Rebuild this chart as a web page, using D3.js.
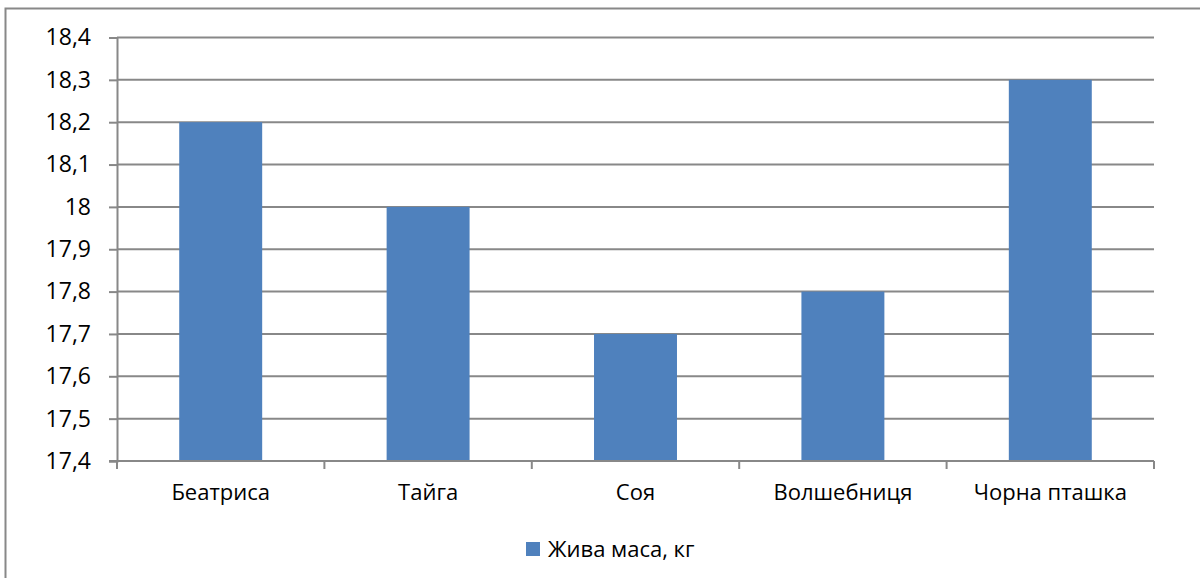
<!DOCTYPE html>
<html>
<head>
<meta charset="utf-8">
<script src="https://cdn.jsdelivr.net/npm/d3@7"></script>
<style>
  html, body { margin: 0; padding: 0; background: #fff; }
  svg { display: block; font-family: "Open Sans", "Noto Sans", sans-serif; }
</style>
</head>
<body>
<svg id="chart" width="1200" height="578"></svg>
<script>
// Live weight by variety
const categories = ["Беатриса", "Тайга", "Соя", "Волшебниця", "Чорна пташка"];
const values = [18.2, 18.0, 17.7, 17.8, 18.3];
const tickValues = [17.4, 17.5, 17.6, 17.7, 17.8, 17.9, 18.0, 18.1, 18.2, 18.3, 18.4];
const seriesName = "Жива маса, кг";

const svg = d3.select("#chart");
const W = 1200, H = 578;
const margin = { left: 117, right: 46, top: 37.5, bottom: 117 };

// outer frame (continues past the right and bottom edges)
svg.append("rect")
  .attr("x", 5.5).attr("y", 8.5)
  .attr("width", 1220).attr("height", 600)
  .attr("fill", "none").attr("stroke", "#888").attr("stroke-width", 2);

const x = d3.scaleBand()
  .domain(categories)
  .range([margin.left, W - margin.right])
  .paddingInner(0.6).paddingOuter(0.3);

const y = d3.scaleLinear()
  .domain([17.4, 18.4])
  .range([H - margin.bottom, margin.top]);

const fmt = v => (Math.abs(v - 18) < 1e-9 ? "18" : d3.format(".1f")(v).replace(".", ","));

// horizontal gridlines
svg.append("g")
  .selectAll("line")
  .data(tickValues.slice(1))
  .join("line")
  .attr("x1", margin.left).attr("x2", W - margin.right)
  .attr("y1", d => y(d)).attr("y2", d => y(d))
  .attr("stroke", "#888").attr("stroke-width", 2);

// bars
svg.append("g")
  .selectAll("rect")
  .data(values)
  .join("rect")
  .attr("x", (d, i) => x(categories[i]))
  .attr("width", x.bandwidth())
  .attr("y", d => y(d))
  .attr("height", d => y(17.4) - y(d))
  .attr("fill", "#4F81BD");

// y axis
const yAxis = svg.append("g")
  .attr("transform", `translate(${margin.left},0)`)
  .call(d3.axisLeft(y).tickValues(tickValues).tickFormat(fmt).tickSize(8).tickPadding(18));
yAxis.select(".domain").attr("stroke", "#888").attr("stroke-width", 2);
yAxis.selectAll(".tick line").attr("stroke", "#888").attr("stroke-width", 2);
yAxis.selectAll(".tick text").attr("font-size", 23).attr("fill", "#000")
  .attr("font-family", "'Open Sans', sans-serif");

// x axis with boundary ticks between categories
const x0 = margin.left, x1 = W - margin.right;
const step = (x1 - x0) / categories.length;
const xAxisG = svg.append("g");
xAxisG.append("line")
  .attr("x1", x0 - 8).attr("x2", x1)
  .attr("y1", y(17.4)).attr("y2", y(17.4))
  .attr("stroke", "#888").attr("stroke-width", 2);
xAxisG.selectAll("line.b")
  .data(d3.range(categories.length + 1))
  .join("line")
  .attr("class", "b")
  .attr("x1", i => x0 + i * step).attr("x2", i => x0 + i * step)
  .attr("y1", y(17.4)).attr("y2", y(17.4) + 8)
  .attr("stroke", "#888").attr("stroke-width", 2);
xAxisG.selectAll("text")
  .data(categories)
  .join("text")
  .attr("x", d => x(d) + x.bandwidth() / 2)
  .attr("y", 500)
  .attr("text-anchor", "middle")
  .attr("font-size", 22)
  .attr("fill", "#000")
  .text(d => d);

// legend
const legend = svg.append("g");
legend.append("rect")
  .attr("x", 526).attr("y", 542).attr("width", 14).attr("height", 14)
  .attr("fill", "#4F81BD");
legend.append("text")
  .attr("x", 548).attr("y", 557)
  .attr("font-size", 22).attr("fill", "#000")
  .text(seriesName);
</script>
</body>
</html>
